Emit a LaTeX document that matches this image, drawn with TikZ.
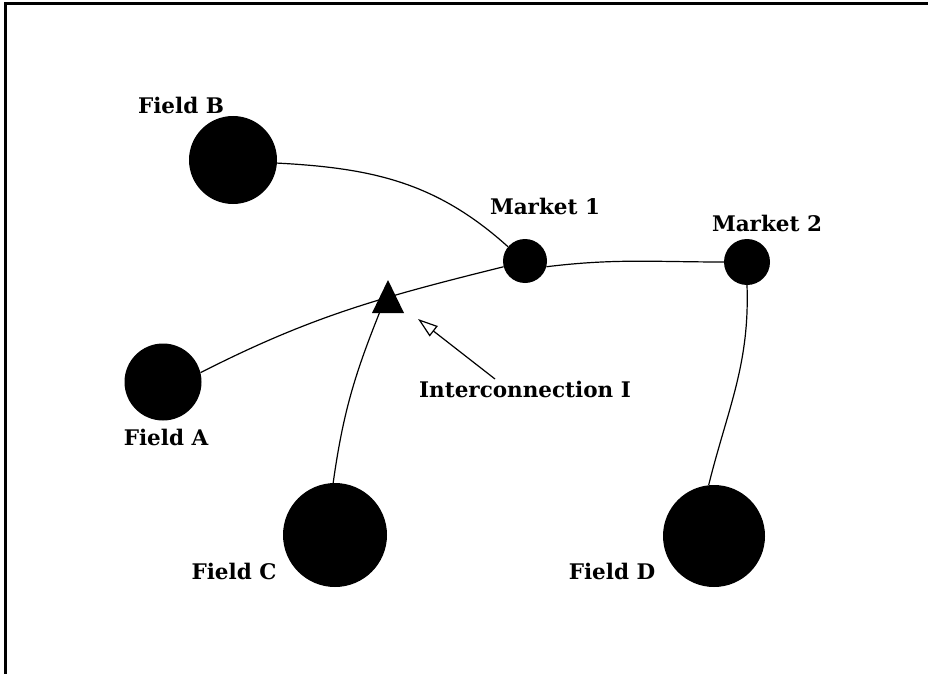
\documentclass[tikz,border=0pt]{standalone}
\usepackage{fontspec}
\newfontfamily\labfont{DejaVu Serif}
\usetikzlibrary{arrows.meta}
\begin{document}
\begin{tikzpicture}[x=1pt,y=1pt,
  dot/.style={circle,fill=black,draw=none,inner sep=0pt},
  link/.style={line width=1.2pt},
  lbl/.style={font=\labfont\bfseries\fontsize{21.5}{25}\selectfont,inner sep=0pt,text=black}]
\useasboundingbox (0,0) rectangle (928,-674);
% frame (top and left edges only)
\draw[line width=3pt] (928,-4) -- (5,-4) -- (5,-674);
% nodes
\node[dot,minimum size=88pt] (B) at (233,-160) {};
\node[dot,minimum size=77pt] (A) at (163,-382) {};
\node[dot,minimum size=104pt] (C) at (335,-535) {};
\node[dot,minimum size=102pt] (D) at (714,-536) {};
\node[dot,minimum size=44pt] (M1) at (525,-261) {};
\node[dot,minimum size=46pt] (M2) at (747,-262) {};
\coordinate (tri) at (388,-300);
\coordinate (triL) at (381,-309);
% labels
\node[lbl] (lB) at (181,-105) {Field B};
\node[lbl] (lA) at (166,-437) {Field A};
\node[lbl] (lC) at (234,-571) {Field C};
\node[lbl] (lD) at (612,-571) {Field D};
\node[lbl] (lM1) at (545,-206) {Market 1};
\node[lbl] (lM2) at (767,-223) {Market 2};
\node[lbl] (lI) at (525,-389) {Interconnection I};
% connectors
\draw[link] (B.-4) to[out=-3,in=138] (M1.140);
\draw[link] (A.14) to[out=27,in=194] (M1.195);
\draw[link] (C.92) to[out=82,in=-112] (triL);
\draw[link] (M1.-15) to[out=7,in=180] (M2.west);
\draw[link] (M2.-90) to[out=-88,in=76] (D.96);
% interconnection triangle
\fill (tri) ++(0,20) -- ++(-16,-33) -- ++(32,0) -- cycle;
% arrow
\coordinate (aT) at (495,-379);
\coordinate (aH) at (418,-319);
\draw[line width=1.2pt,-{Triangle[open,length=20pt,width=13pt,line width=1.2pt]}] (aT) -- (aH);
\end{tikzpicture}
\end{document}
